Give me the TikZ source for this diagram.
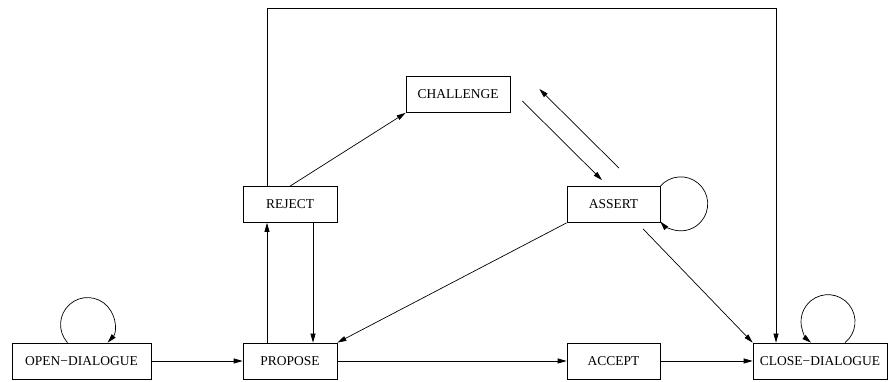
\documentclass[tikz,border=0pt]{standalone}
\usepackage{fontspec}
\setmainfont{Liberation Serif}
\usetikzlibrary{arrows.meta}
\begin{document}
\begin{tikzpicture}[x=1pt,y=1pt,line width=0.7pt,
    >={Triangle[length=9pt,width=5pt]},
    move/.style={draw,rectangle,inner sep=0pt,minimum height=36pt,
      minimum width=94pt,font=\fontsize{13.5}{15}\selectfont}]
      \useasboundingbox (0,0) rectangle (888,382);
      \draw
        (81.5,21) node[move,minimum width=139pt] (open){OPEN−DIALOGUE}
        (290,21) node[move] (propose){PROPOSE}
        (613.5,21) node[move,minimum width=93pt] (accept){ACCEPT}
        (820,21) node[move,minimum width=134pt] (close){CLOSE−DIALOGUE}
        (290,177.5) node[move] (reject){REJECT}
        (613.5,177.5) node[move,minimum width=93pt] (assert){ASSERT}
        (458,287.5) node[move,minimum width=104pt] (challenge){CHALLENGE};
      \coordinate (top) at (0,374);
      \coordinate (r1) at ([xshift=-23pt]reject.north);
      \coordinate (c1) at ([xshift=-44pt]close.north);
      \begin{scope}[->]
        \draw (open) to (propose);
        \draw (propose) to (accept);
        \draw (accept) to (close);
        \draw ([xshift=-23pt]propose.north) to ([xshift=-23pt]reject.south);
        \draw ([xshift=23pt]reject.south) to ([xshift=23pt]propose.north);
        \draw (reject.north) to (challenge.south west);
        \draw ([shift={(12pt,-6.5pt)}]challenge.east) to ([shift={(-11.5pt,6pt)}]assert.north);
        \draw ([shift={(5.5pt,18pt)}]assert.north) to ([shift={(29pt,5.5pt)}]challenge.east);
        \draw (assert.south west) to (propose.north east);
        \draw ([shift={(29.5pt,-6pt)}]assert.south) to (close.north west);
        \draw (r1) |- (c1 |- top) -- (c1);
        % self loops
        \draw ([xshift=-14pt]open.north) arc[start angle=222,end angle=-42,radius=27pt];
        \draw ([xshift=25pt]close.north) arc[start angle=-51,end angle=231,radius=27pt];
        \draw (assert.north east) arc[start angle=139,end angle=-139,radius=27pt];
      \end{scope}
    \end{tikzpicture}
\end{document}
